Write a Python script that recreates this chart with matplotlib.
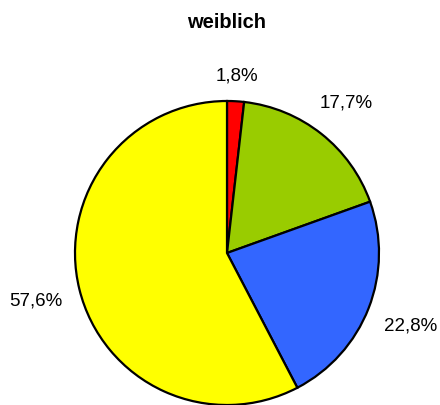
import numpy as np
import matplotlib
matplotlib.use('Agg')
import matplotlib.pyplot as plt

plt.rcParams['font.family'] = ['Liberation Sans', 'DejaVu Sans']

# shares in percent, clockwise from 12 o'clock
shares = [1.8, 17.7, 22.8, 57.6]
labels = ['1,8%', '17,7%', '22,8%', '57,6%']
colors = ['#FF0000', '#99CC00', '#3366FF', '#FFFF00']
title = 'weiblich'

fig = plt.figure(figsize=(4.40, 4.06), dpi=100)
# pie centre ~ (227, 254) px, radius ~ 152 px
ax = fig.add_axes([75 / 440, 0 / 406, 304 / 440, 304 / 406])

wedges, texts = ax.pie(shares, colors=colors, startangle=90, counterclock=False,
                       labels=labels, labeldistance=1.2,
                       wedgeprops=dict(edgecolor='black', linewidth=1.6),
                       textprops=dict(fontsize=13.5))
for w in wedges:
    w.set_clip_on(False)

ax.set_xlim(-1, 1)
ax.set_ylim(-1, 1)
ax.set_aspect('equal')
ax.axis('off')

# put each label just outside the rim, like excel does
fig.canvas.draw()
rend = fig.canvas.get_renderer()
px_per_unit = ax.transData.transform((1, 0))[0] - ax.transData.transform((0, 0))[0]
gap = 17 / px_per_unit
for w, t in zip(wedges, texts):
    a = np.deg2rad((w.theta1 + w.theta2) / 2)
    bb = t.get_window_extent(rend)
    half = (bb.width / 2 * abs(np.cos(a)) + bb.height / 2 * abs(np.sin(a))) / px_per_unit
    d = 1 + gap + half
    t.set_position((d * np.cos(a), d * np.sin(a)))
    t.set_horizontalalignment('center')
    t.set_verticalalignment('center')

fig.text(227 / 440, 1 - 22 / 406, title, ha='center', va='center',
         fontsize=14.5, fontweight='bold')

fig.savefig('out.png', dpi=100)
